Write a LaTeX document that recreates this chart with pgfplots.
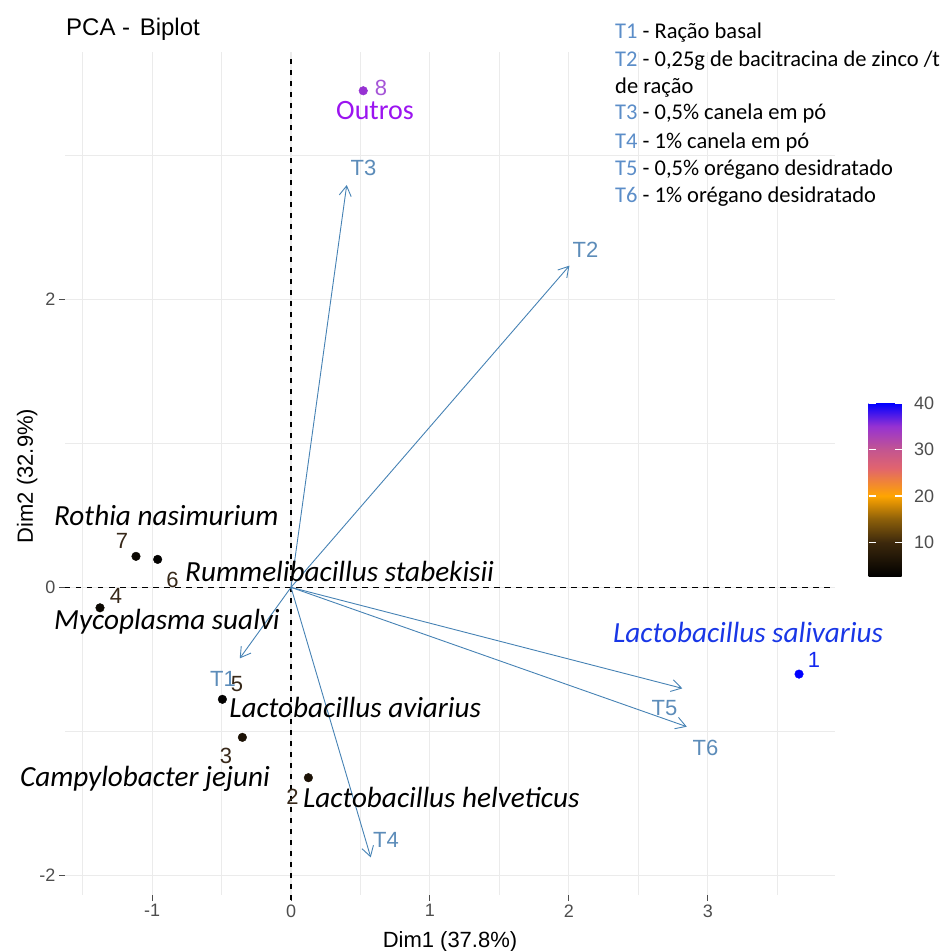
\documentclass[border=0pt]{standalone}
\usepackage{pgfplots}
\pgfplotsset{compat=1.18}
\usepackage{fontspec}
\setmainfont{Liberation Sans}
\newfontfamily\calfont{Carlito}
\usetikzlibrary{arrows.meta}
\newcommand\fs[1]{\fontsize{#1}{#1}\selectfont}
\definecolor{arrowc}{RGB}{70,130,180}
\definecolor{tlab}{RGB}{92,140,185}
\definecolor{legT}{RGB}{91,141,200}
\definecolor{gridc}{RGB}{235,235,235}
\definecolor{tickc}{RGB}{77,77,77}
\definecolor{numc}{RGB}{55,40,25}
\definecolor{outros}{RGB}{155,20,240}
\definecolor{salc}{RGB}{25,55,230}
\definecolor{eightc}{RGB}{165,85,215}
\definecolor{onec}{RGB}{20,40,240}
\pgfplotsset{/pgf/number format/assume math mode=true}
\begin{document}
\begin{tikzpicture}[x=1pt,y=1pt]
\useasboundingbox (0pt,0pt) rectangle (943pt,951pt);
\begin{axis}[
  at={(65pt,56pt)}, anchor=south west, scale only axis,
  width=770pt, height=843pt,
  xmin=-1.627, xmax=3.916, ymin=-2.135, ymax=3.715,
  xtick={-1,0,1,2,3}, ytick={-2,0,2},
  minor xtick={-1.5,-0.5,0.5,1.5,2.5,3.5}, minor ytick={-1,1,3},
  grid=both,
  major grid style={gridc, line width=1.1pt},
  minor grid style={gridc, line width=0.8pt},
  axis line style={draw=none},
  tick align=outside, tick pos=left,
  major tick length=6pt, minor tick length=0pt,
  major tick style={tickc, line width=1pt},
  ticklabel style={font=\fs{18}, text=tickc},
  xlabel={Dim1 (37.8\%)}, ylabel={Dim2 (32.9\%)},
  label style={font=\fs{22}},
  xlabel style={at={(axis description cs:0.5,0)}, anchor=base, yshift=-52.7pt},
  ylabel style={at={(axis description cs:-0.0416,0.497)}, anchor=base},
  clip=false,
  colormap={pca}{rgb255(26pt)=(0,0,0) rgb255(100pt)=(60,40,12) rgb255(150pt)=(140,95,10) rgb255(200pt)=(255,165,0) rgb255(260pt)=(225,100,110) rgb255(300pt)=(195,85,145) rgb255(350pt)=(150,50,210) rgb255(400pt)=(0,0,255)},
  point meta min=2.6, point meta max=40,
  colorbar, colorbar/width=33pt,
  colorbar style={
    at={(parent axis.south east)}, anchor=south west,
    xshift=25pt, yshift=318pt,
    width=33pt, height=174pt, scale only axis,
    ytick={10,20,30,40}, yticklabel pos=right, ytick pos=both,
    tick align=inside, major tick length=7pt,
    major tick style={white, line width=1.2pt},
    axis line style={draw=none},
    yticklabel style={font=\fs{18}, text=tickc, xshift=9pt},
  },
]
% reference dashed lines
\addplot[black, line width=1.1pt, dash pattern=on 5.5pt off 5.5pt] coordinates {(-1.627,0) (3.916,0)};
\addplot[black, line width=1.1pt, dash pattern=on 5.5pt off 5.5pt] coordinates {(0,-2.17) (0,3.67)};
% arrows
\addplot[arrowc, line width=0.9pt, -{Straight Barb[length=10pt,width=12pt]}] coordinates {(0,0) (-0.369,-0.493)};
\addplot[arrowc, line width=0.9pt, -{Straight Barb[length=10pt,width=12pt]}] coordinates {(0,0) (2.004,2.232)};
\addplot[arrowc, line width=0.9pt, -{Straight Barb[length=10pt,width=12pt]}] coordinates {(0,0) (0.401,2.792)};
\addplot[arrowc, line width=0.9pt, -{Straight Barb[length=10pt,width=12pt]}] coordinates {(0,0) (0.574,-1.874)};
\addplot[arrowc, line width=0.9pt, -{Straight Barb[length=10pt,width=12pt]}] coordinates {(0,0) (2.817,-0.701)};
\addplot[arrowc, line width=0.9pt, -{Straight Barb[length=10pt,width=12pt]}] coordinates {(0,0) (2.849,-0.967)};
% points
\addplot[scatter, only marks, mark=*, mark size=4.3pt,
  scatter/use mapped color={draw=mapped color, fill=mapped color},
  point meta=explicit] table[meta=c] {
x y c
3.657 -0.602 40
0.125 -1.321 6
-0.350 -1.041 6
-1.375 -0.142 4
-0.494 -0.777 3
-0.960 0.194 3
-1.116 0.215 4
0.520 3.446 35
};
% arrow labels
\node[font=\fs{22}, text=tlab] at (axis cs:-0.49,-0.636) {T1};
\node[font=\fs{22}, text=tlab] at (axis cs:2.12,2.344) {T2};
\node[font=\fs{22}, text=tlab] at (axis cs:0.522,2.909) {T3};
\node[font=\fs{22}, text=tlab] at (axis cs:0.684,-1.75) {T4};
\node[font=\fs{22}, text=tlab] at (axis cs:2.689,-0.841) {T5};
\node[font=\fs{22}, text=tlab] at (axis cs:2.984,-1.112) {T6};
% point number labels
\node[font=\fs{22}, text=onec] at (axis cs:3.765,-0.501) {1};
\node[font=\fs{22}, text=numc] at (axis cs:0.011,-1.452) {2};
\node[font=\fs{22}, text=numc] at (axis cs:-0.468,-1.171) {3};
\node[font=\fs{22}, text=numc] at (axis cs:-1.26,-0.057) {4};
\node[font=\fs{22}, text=numc] at (axis cs:-0.389,-0.67) {5};
\node[font=\fs{22}, text=numc] at (axis cs:-0.853,0.054) {6};
\node[font=\fs{22}, text=numc] at (axis cs:-1.217,0.321) {7};
\node[font=\fs{22}, text=eightc] at (axis cs:0.648,3.467) {8};
% species labels
\node[anchor=base west, inner sep=0pt, font=\calfont\itshape\fs{29.2}, text=salc] at (axis cs:2.318,-0.38) {Lactobacillus salivarius};
\node[anchor=base west, inner sep=0pt, font=\calfont\itshape\fs{29.2}] at (axis cs:-0.446,-0.9) {Lactobacillus aviarius};
\node[anchor=base east, inner sep=0pt, font=\calfont\itshape\fs{29.2}] at (axis cs:-0.151,-1.379) {Campylobacter jejuni};
\node[anchor=base west, inner sep=0pt, font=\calfont\itshape\fs{29.2}] at (axis cs:0.086,-1.525) {Lactobacillus helveticus};
\node[anchor=base west, inner sep=0pt, font=\calfont\itshape\fs{29.2}] at (axis cs:-1.706,0.427) {Rothia nasimurium};
\node[anchor=base west, inner sep=0pt, font=\calfont\itshape\fs{29.2}] at (axis cs:-0.763,0.039) {Rummelibacillus stabekisii};
\node[anchor=base west, inner sep=0pt, font=\calfont\itshape\fs{29.2}] at (axis cs:-1.706,-0.296) {Mycoplasma sualvi};
\node[font=\calfont\fs{28}, text=outros] at (axis cs:0.605,3.31) {Outros};
\end{axis}
% title
\node[anchor=base west, inner sep=0pt, font=\fs{24}] at (66pt,915pt) {PCA -\hspace{0.4em}Biplot};
% treatment legend
\begin{scope}[every node/.style={anchor=base west, inner sep=0pt, font=\calfont\fs{22.5}}]
\node at (615pt,912.7pt) {\textcolor{legT}{T1} - Ração basal};
\node at (615pt,884.3pt) {\textcolor{legT}{T2} - 0,25g de bacitracina de zinco /t};
\node at (615pt,857.7pt) {de ração};
\node at (615pt,831pt) {\textcolor{legT}{T3} - 0,5\% canela em pó};
\node at (615pt,802.7pt) {\textcolor{legT}{T4} - 1\% canela em pó};
\node at (615pt,775.3pt) {\textcolor{legT}{T5} - 0,5\% orégano desidratado};
\node at (615pt,748.3pt) {\textcolor{legT}{T6} - 1\% orégano desidratado};
\end{scope}
\end{tikzpicture}
\end{document}
